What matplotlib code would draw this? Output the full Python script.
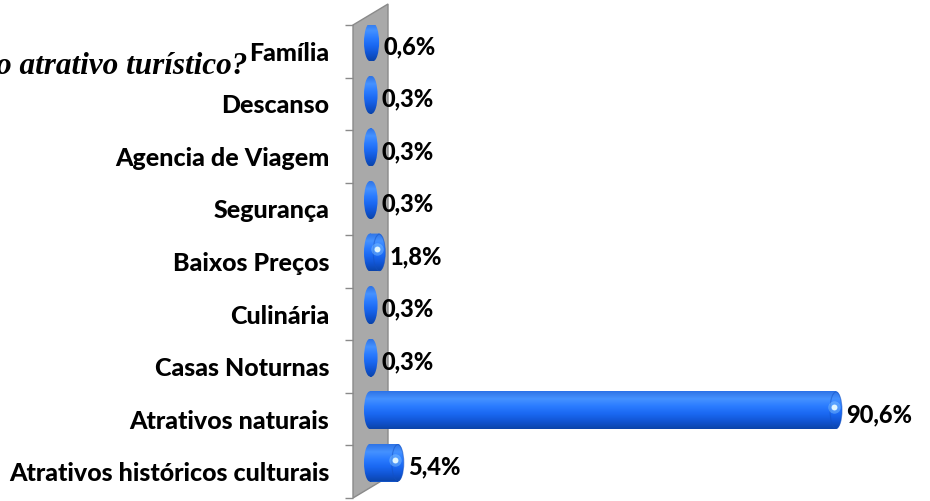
import numpy as np
import matplotlib
matplotlib.use("Agg")
import matplotlib.pyplot as plt
from matplotlib.patches import Polygon, Ellipse, PathPatch
from matplotlib.path import Path
from matplotlib.transforms import Affine2D
from matplotlib.colors import LinearSegmentedColormap

# --- data (bottom to top) ---
categories = ["Atrativos históricos culturais", "Atrativos naturais", "Casas Noturnas",
              "Culinária", "Baixos Preços", "Segurança", "Agencia de Viagem",
              "Descanso", "Família"]
values = [5.4, 90.6, 0.3, 0.3, 1.8, 0.3, 0.3, 0.3, 0.6]
labels = ["5,4%", "90,6%", "0,3%", "0,3%", "1,8%", "0,3%", "0,3%", "0,3%", "0,6%"]
title = "o atrativo turístico?"

W, H = 930, 501
fig = plt.figure(figsize=(W / 100, H / 100), dpi=100)
fig.patch.set_facecolor("white")

# axes placed in pixel terms: left edge at wall (353 px), rows from y=25 to y=498
ax = fig.add_axes([353 / W, (H - 498) / H, (W - 353) / W, 473 / H])
ax.set_facecolor("none")
for s in ax.spines.values():
    s.set_visible(False)

px_per = 466 / 90.6          # px per percent
x0 = -17 / px_per            # bars start 17px right of wall edge (incl. cap)
ax.set_xticks([])

# gray 3D wall (figure pixels -> fractions)
wall = [(353, 25), (388, 4), (388, 477), (353, 498)]
fig.add_artist(Polygon([(x / W, 1 - y / H) for x, y in wall], closed=True,
                       facecolor="#a9a9a9", edgecolor="#8a8a8a", lw=1,
                       transform=fig.transFigure, zorder=-1))

cw = 6 / px_per              # half width of the rounded caps
bh = 0.72                    # bar thickness
shift = 9 / 52.55            # bars sit a little above the row centre
cmap = LinearSegmentedColormap.from_list(
    "cyl", ["#2f74e6", "#4592ff", "#2a7bff", "#1a68f2", "#1155d4", "#0b44aa"])
grad = np.linspace(0, 1, 64).reshape(-1, 1)
fam = "Lato"

ypos = np.arange(len(categories))
for y, v, lab in zip(ypos, values, labels):
    yc = y + shift
    ax.barh(yc, v, height=bh, color="#1f6ef5", lw=0, zorder=2)
    # outline path = body + elliptical caps
    rect = Path.unit_rectangle().transformed(
        Affine2D().scale(v, bh).translate(0, yc - bh / 2))
    capL = Path.unit_circle().transformed(Affine2D().scale(cw, bh / 2).translate(0, yc))
    capR = Path.unit_circle().transformed(Affine2D().scale(cw, bh / 2).translate(v, yc))
    shape = Path.make_compound_path(rect, capL, capR)
    clip = PathPatch(shape, transform=ax.transData, facecolor="none", lw=0)
    ax.add_patch(clip)
    im = ax.imshow(grad, cmap=cmap, aspect="auto", origin="upper",
                   extent=(-cw, v + cw, yc - bh / 2, yc + bh / 2), zorder=3,
                   interpolation="bilinear")
    im.set_clip_path(clip)
    if v >= 1:
        # end face of the cylinder + glint
        ax.add_patch(Ellipse((v, yc), 2 * cw, bh * 0.96, facecolor="none",
                             edgecolor="#1450c0", lw=0.8, alpha=0.5, zorder=4))
        ax.scatter([v - cw * 0.4], [yc + 0.06], s=80, color="#9fdcff", alpha=0.35,
                   lw=0, zorder=5)
        ax.scatter([v - cw * 0.4], [yc + 0.06], s=18, color="#e8fbff", alpha=0.95,
                   lw=0, zorder=5)
    ax.annotate(lab, (v, yc - 0.08), xytext=(6 * 0.72 + 3, 0), textcoords="offset points",
                ha="left", va="center", fontsize=17, fontweight="black",
                family=fam, color="black", zorder=6)

ax.set_xlim(x0, x0 + (W - 353) / px_per)
ax.set_ylim(-0.5, len(categories) - 0.5)
ax.set_yticks(ypos)
ax.set_yticklabels(categories, fontsize=18, fontweight="black", family=fam)
ax.tick_params(axis="y", which="major", length=0, pad=17)
ax.set_yticks(np.arange(-0.5, len(categories), 1), minor=True)
ax.tick_params(axis="y", which="minor", length=5.8, width=1, color="#8a8a8a")

fig.text(247 / W, 1 - 74 / H, title, ha="right", va="baseline",
         fontsize=22.5, fontweight="bold", fontstyle="italic", family="Liberation Serif")

fig.savefig("out.png", dpi=100, facecolor="white")
